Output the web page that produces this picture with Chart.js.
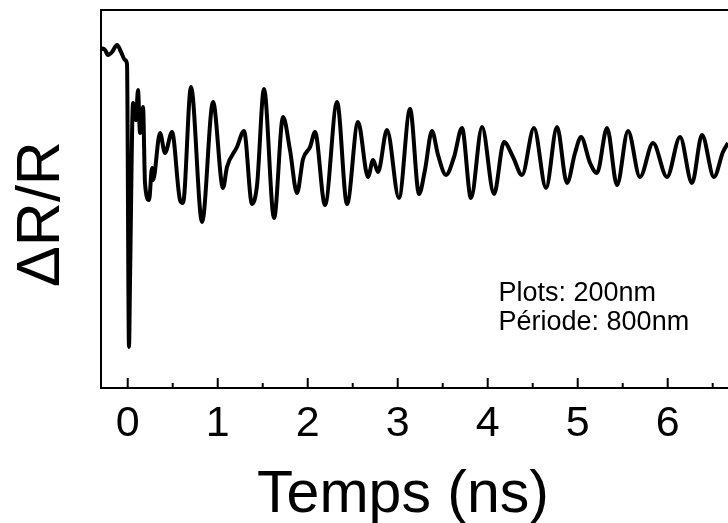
<!DOCTYPE html>
<html>
<head>
<meta charset="utf-8">
<script src="https://cdn.jsdelivr.net/npm/chart.js@4/dist/chart.umd.min.js"></script>
<style>
  html, body { margin: 0; padding: 0; background: #fff; }
  #wrap { width: 728px; height: 523px; }
</style>
</head>
<body>
<div id="wrap"><canvas id="chart"></canvas></div>
<script>
// temps (ns) et signal (unités arbitraires)
const timeNs = [
    -0.297, -0.252, -0.219, -0.174, -0.119, -0.074, -0.030, -0.008, 0.014, 0.026,
    0.059, 0.092, 0.114, 0.137, 0.170, 0.192, 0.237, 0.270, 0.281, 0.359,
    0.414, 0.492, 0.581, 0.614, 0.703, 0.826, 0.948, 1.059, 1.103, 1.214,
    1.292, 1.381, 1.437, 1.514, 1.626, 1.726, 1.803, 1.881, 1.948, 2.026,
    2.081, 2.192, 2.326, 2.437, 2.559, 2.670, 2.726, 2.781, 2.881, 3.014,
    3.137, 3.237, 3.303, 3.381, 3.448, 3.537, 3.626, 3.714, 3.814, 3.937,
    4.070, 4.181, 4.281, 4.381, 4.514, 4.648, 4.770, 4.881, 4.970, 5.037,
    5.137, 5.214, 5.326, 5.437, 5.559, 5.692, 5.837, 5.992, 6.137, 6.270,
    6.381, 6.514, 6.614, 6.670
];
const deltaR = [
    340, 338, 333, 336, 343, 336, 328, 324, 41, 111,
    285, 268, 298, 255, 281, 205, 188, 220, 208, 255,
    235, 256, 188, 185, 301, 166, 286, 200, 221, 241,
    257, 184, 203, 299, 170, 271, 238, 195, 229, 241,
    256, 183, 286, 184, 266, 211, 228, 216, 258, 190,
    279, 194, 218, 257, 233, 213, 231, 260, 190, 261,
    194, 246, 231, 213, 260, 200, 261, 205, 235, 251,
    225, 215, 260, 203, 257, 211, 245, 211, 251, 205,
    253, 211, 236, 245
];
const xTicks = [0, 1, 2, 3, 4, 5, 6];
const noteLines = ['Plots: 200nm', 'Période: 800nm'];

const FONT = "'Liberation Sans', Arial, sans-serif";

const points = timeNs.map((t, i) => ({ x: t, y: deltaR[i] }));

// cadre + petites graduations vers l'intérieur + titres + texte
const framePlugin = {
    id: 'frame',
    afterDraw(chart) {
        const ctx = chart.ctx;
        const a = chart.chartArea;
        const xs = chart.scales.x;
        const ys = chart.scales.y;
        ctx.save();
        ctx.strokeStyle = '#000';
        ctx.lineWidth = 2;
        ctx.beginPath();
        ctx.moveTo(a.right + 2, a.top);
        ctx.lineTo(a.left, a.top);
        ctx.lineTo(a.left, a.bottom);
        ctx.lineTo(a.right + 2, a.bottom);
        ctx.stroke();

        for (let k = 0; k <= 13; k++) {
            const v = k * 0.5;
            const px = xs.getPixelForValue(v);
            if (px < a.left || px > a.right) continue;
            const len = (k % 2 === 0) ? 10 : 5;
            ctx.beginPath();
            ctx.moveTo(px, a.bottom);
            ctx.lineTo(px, a.bottom - len);
            ctx.stroke();
        }

        ctx.fillStyle = '#000';
        ctx.textAlign = 'center';
        ctx.textBaseline = 'alphabetic';
        ctx.font = '59px ' + FONT;
        ctx.fillText('Temps (ns)', 403, 512);

        ctx.font = '61px ' + FONT;
        ctx.textBaseline = 'middle';
        ctx.translate(42, 214);
        ctx.rotate(-Math.PI / 2);
        ctx.fillText('ΔR/R', 0, 0);
        ctx.restore();

        ctx.save();
        ctx.fillStyle = '#000';
        ctx.font = '27px ' + FONT;
        ctx.textAlign = 'left';
        ctx.textBaseline = 'alphabetic';
        const nx = xs.getPixelForValue(4.12);
        ctx.fillText(noteLines[0], nx, ys.getPixelForValue(87));
        ctx.fillText(noteLines[1], nx, ys.getPixelForValue(58));
        ctx.restore();
    }
};

new Chart(document.getElementById('chart'), {
    type: 'line',
    data: {
        datasets: [{
            data: points,
            borderColor: '#000',
            borderWidth: 4,
            pointRadius: 0,
            cubicInterpolationMode: 'monotone',
            fill: false
        }]
    },
    options: {
        responsive: true,
        maintainAspectRatio: false,
        animation: false,
        layout: { padding: { left: 101, top: 10, right: 0, bottom: 0 } },
        plugins: { legend: { display: false }, tooltip: { enabled: false } },
        scales: {
            x: {
                type: 'linear',
                min: -0.297,
                max: 6.67,
                grid: { display: false, drawTicks: false },
                border: { display: false },
                afterBuildTicks: s => { s.ticks = xTicks.map(v => ({ value: v })); },
                afterFit: s => { s.height = 135; },
                ticks: {
                    color: '#000',
                    padding: 10,
                    maxRotation: 0,
                    font: { size: 43, family: FONT }
                }
            },
            y: {
                min: 0,
                max: 378,
                grid: { display: false, drawTicks: false },
                border: { display: false },
                ticks: { display: false },
                afterFit: s => { s.width = 0; }
            }
        }
    },
    plugins: [framePlugin]
});
</script>
</body>
</html>
